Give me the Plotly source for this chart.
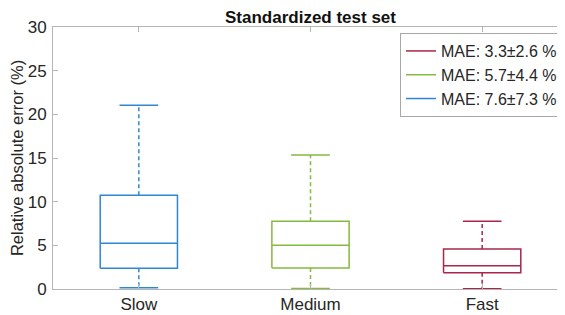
import plotly.graph_objects as go

categories = ["Slow", "Medium", "Fast"]
positions = [1, 2, 3]
lower_whisker = [0.15, 0.05, 0.03]
q1 = [2.37, 2.40, 1.87]
median = [5.23, 5.00, 2.67]
q3 = [10.73, 7.75, 4.58]
upper_whisker = [21.05, 15.35, 7.75]
legend_labels = ["MAE: 7.6\u00b17.3 %", "MAE: 5.7\u00b14.4 %", "MAE: 3.3\u00b12.6 %"]
colors = ["#2F87D2", "#86B940", "#A8274A"]

BOX_HALF = 0.225
CAP_HALF = 0.1125
LW = 1.5

fig = go.Figure()

# draw order: Fast, Medium, Slow so legend lists red, green, blue
for i in [2, 1, 0]:
    p = positions[i]
    c = colors[i]
    xs = [p - BOX_HALF, p + BOX_HALF, p + BOX_HALF, p - BOX_HALF, p - BOX_HALF, None,
          p - BOX_HALF, p + BOX_HALF, None,
          p - CAP_HALF, p + CAP_HALF, None,
          p - CAP_HALF, p + CAP_HALF]
    ys = [q1[i], q1[i], q3[i], q3[i], q1[i], None,
          median[i], median[i], None,
          upper_whisker[i], upper_whisker[i], None,
          lower_whisker[i], lower_whisker[i]]
    fig.add_trace(go.Scatter(x=xs, y=ys, mode="lines",
                             line=dict(color=c, width=LW),
                             name=legend_labels[i], showlegend=True,
                             hoverinfo="skip"))
    fig.add_trace(go.Scatter(x=[p, p, None, p, p],
                             y=[q3[i], upper_whisker[i], None, q1[i], lower_whisker[i]],
                             mode="lines",
                             line=dict(color=c, width=LW, dash="4px,3px"),
                             showlegend=False, hoverinfo="skip"))

axis_color = "#b5b5b5"
font_color = "#262626"

# page body has an 8px margin; the axes box runs slightly past the right edge of the window
W, H = 560, 307
ML, MT, MB = 45, 19, 26
PLOT_W = W - ML
fig.update_layout(
    width=W, height=H,
    margin=dict(l=ML, r=0, t=MT, b=MB, autoexpand=False),
    paper_bgcolor="white", plot_bgcolor="white",
    font=dict(family="Liberation Sans, Arial, sans-serif", size=17, color=font_color),
    title=dict(text="<b>Standardized test set</b>", x=0.5, xref="paper", xanchor="center",
               y=1 - 9.5 / H, yanchor="middle",
               font=dict(size=17, color="#111111")),
    showlegend=True,
    legend=dict(x=(563 - 53) / PLOT_W, xanchor="right", y=0.977, yanchor="top",
                bgcolor="white", bordercolor="#a8a8a8", borderwidth=1,
                font=dict(size=16, color=font_color),
                itemwidth=30, tracegroupgap=0),
)

fig.update_xaxes(
    range=[0.5, 3.5],
    tickmode="array", tickvals=positions, ticktext=categories,
    ticks="inside", ticklen=5, tickcolor=axis_color,
    showline=True, linecolor=axis_color, linewidth=1, mirror="ticks",
    showgrid=False, zeroline=False, automargin=False,
    tickfont=dict(size=17, color=font_color),
)
fig.update_yaxes(
    range=[0, 30], tickmode="array", tickvals=[0, 5, 10, 15, 20, 25, 30],
    ticks="inside", ticklen=5, tickcolor=axis_color,
    showline=True, linecolor=axis_color, linewidth=1, mirror="ticks",
    showgrid=False, zeroline=False, automargin=False, ticklabelstandoff=2,
    tickfont=dict(size=17, color=font_color),
    title=dict(text="Relative absolute error (%)", standoff=4,
               font=dict(size=16.5, color=font_color)),
)

fig.write_html("out.html")
